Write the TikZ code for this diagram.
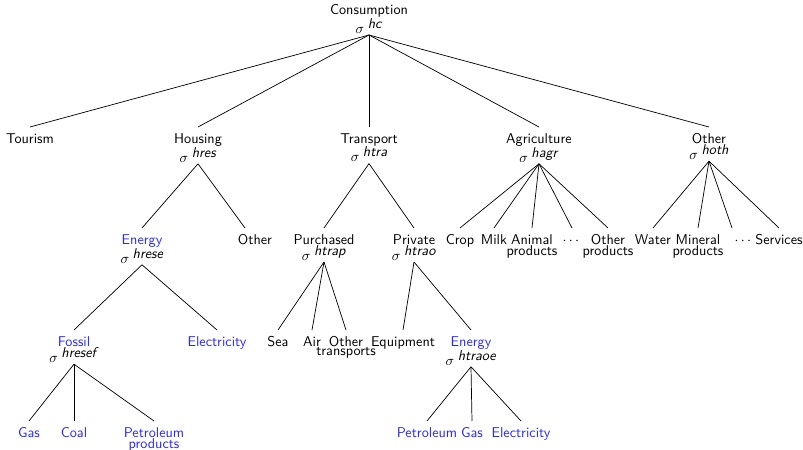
\documentclass[tikz,border=0pt]{standalone}
\usepackage{amsmath}
\usepackage{xcolor}
\usepackage{tikz}
\definecolor{enblue}{RGB}{40,40,255}
% sigma with raised nest name, energy labels in blue
\newcommand{\sig}[1]{$\sigma$\hspace{2.5pt}\raisebox{3.5pt}{\textit{#1}}}
\newcommand{\en}[1]{\textcolor{enblue}{#1}}
% tight two-line label
\newcommand{\twoline}[2]{\vbox{\baselineskip=-1pt\lineskip=0.5pt\lineskiplimit=0pt%
  \halign{\hfil##\hfil\cr\rule{0pt}{10.5pt}#1\cr#2\cr}}}

\begin{document}
\begin{tikzpicture}[x=0.704pt,y=-0.704pt,
    every node/.style={font=\sffamily, inner sep=1pt},
    lbl/.style={anchor=north, execute at begin node=\rule{0pt}{10.5pt}},
    nest/.style={line width=0.5pt}]
  \useasboundingbox (0,0) rectangle (803,450);
  % top nest
  \node (hc) [anchor=south] at (369,35) {\twoline{Consumption}{\sig{hc}}};
  % first level
  \node (tour) [lbl] at (30,127) {Tourism};
  \node (hres) [lbl] at (198,127) {\twoline{Housing}{\sig{hres}}};
  \node (htra) [lbl] at (369,127) {\twoline{Transport}{\sig{htra}}};
  \node (hagr) [lbl] at (539,127) {\twoline{Agriculture}{\sig{hagr}}};
  \node (hoth) [lbl] at (709,127) {\twoline{Other}{\sig{hoth}}};
  % second level
  \node (hrese) [lbl] at (142,228) {\twoline{\en{Energy}}{\sig{hrese}}};
  \node (hother) [lbl] at (255,228) {Other};
  \node (htrap) [lbl] at (324,228) {\twoline{Purchased}{\sig{htrap}}};
  \node (htrao) [lbl] at (414,228) {\twoline{Private}{\sig{htrao}}};
  \node (crop) [lbl] at (460,228) {Crop};
  \node (milk) [lbl] at (494,228) {Milk};
  \node (anim) [lbl] at (532,228) {\twoline{Animal}{products}};
  \node (agdots) [lbl] at (572,228) {$\cdots$};
  \node (agoth) [lbl] at (608,228) {\twoline{Other}{products}};
  \node (water) [lbl] at (653,228) {Water};
  \node (mine) [lbl] at (698,228) {\twoline{Mineral}{products}};
  \node (ohdots) [lbl] at (744,228) {$\cdots$};
  \node (serv) [lbl] at (779,228) {Services};
  % third level
  \node (hresef) [lbl] at (74,330) {\twoline{\en{Fossil}}{\sig{hresef}}};
  \node (elec) [lbl] at (217,330) {\en{Electricity}};
  \node (sea) [lbl] at (278,330) {Sea};
  \node (air) [lbl] at (312,330) {Air};
  \node (otran) [lbl] at (346,330) {\twoline{Other}{transports}};
  \node (equip) [lbl] at (403,330) {Equipment};
  \node (htraoe) [lbl] at (471,330) {\twoline{\en{Energy}}{\sig{htraoe}}};
  % fourth level
  \node (gas) [lbl] at (29,421) {\en{Gas}};
  \node (coal) [lbl] at (74,421) {\en{Coal}};
  \node (petr) [lbl] at (154,421) {\twoline{\en{Petroleum}}{\en{products}}};
  \node (petro) [lbl] at (427,421) {\en{Petroleum}};
  \node (gasb) [lbl] at (472,421) {\en{Gas}};
  \node (elecb) [lbl] at (521,421) {\en{Electricity}};
  % nests
  \foreach \p/\c/\dx in {hc/tour/0, hc/hres/0, hc/htra/0, hc/hagr/0, hc/hoth/0,
      hres/hrese/0, hres/hother/-10, htra/htrap/0, htra/htrao/0,
      hagr/crop/0, hagr/milk/0, hagr/anim/0, hagr/agdots/0, hagr/agoth/0,
      hoth/water/0, hoth/mine/0, hoth/ohdots/-12, hoth/serv/0,
      hrese/hresef/0, hrese/elec/0, htrap/sea/0, htrap/air/0, htrap/otran/0,
      htrao/equip/0, htrao/htraoe/0,
      hresef/gas/0, hresef/coal/0, hresef/petr/0,
      htraoe/petro/0, htraoe/gasb/0, htraoe/elecb/0}
    \draw[nest] (\p.south) -- ([shift={(\dx,0)}]\c.north);
\end{tikzpicture}
\end{document}
